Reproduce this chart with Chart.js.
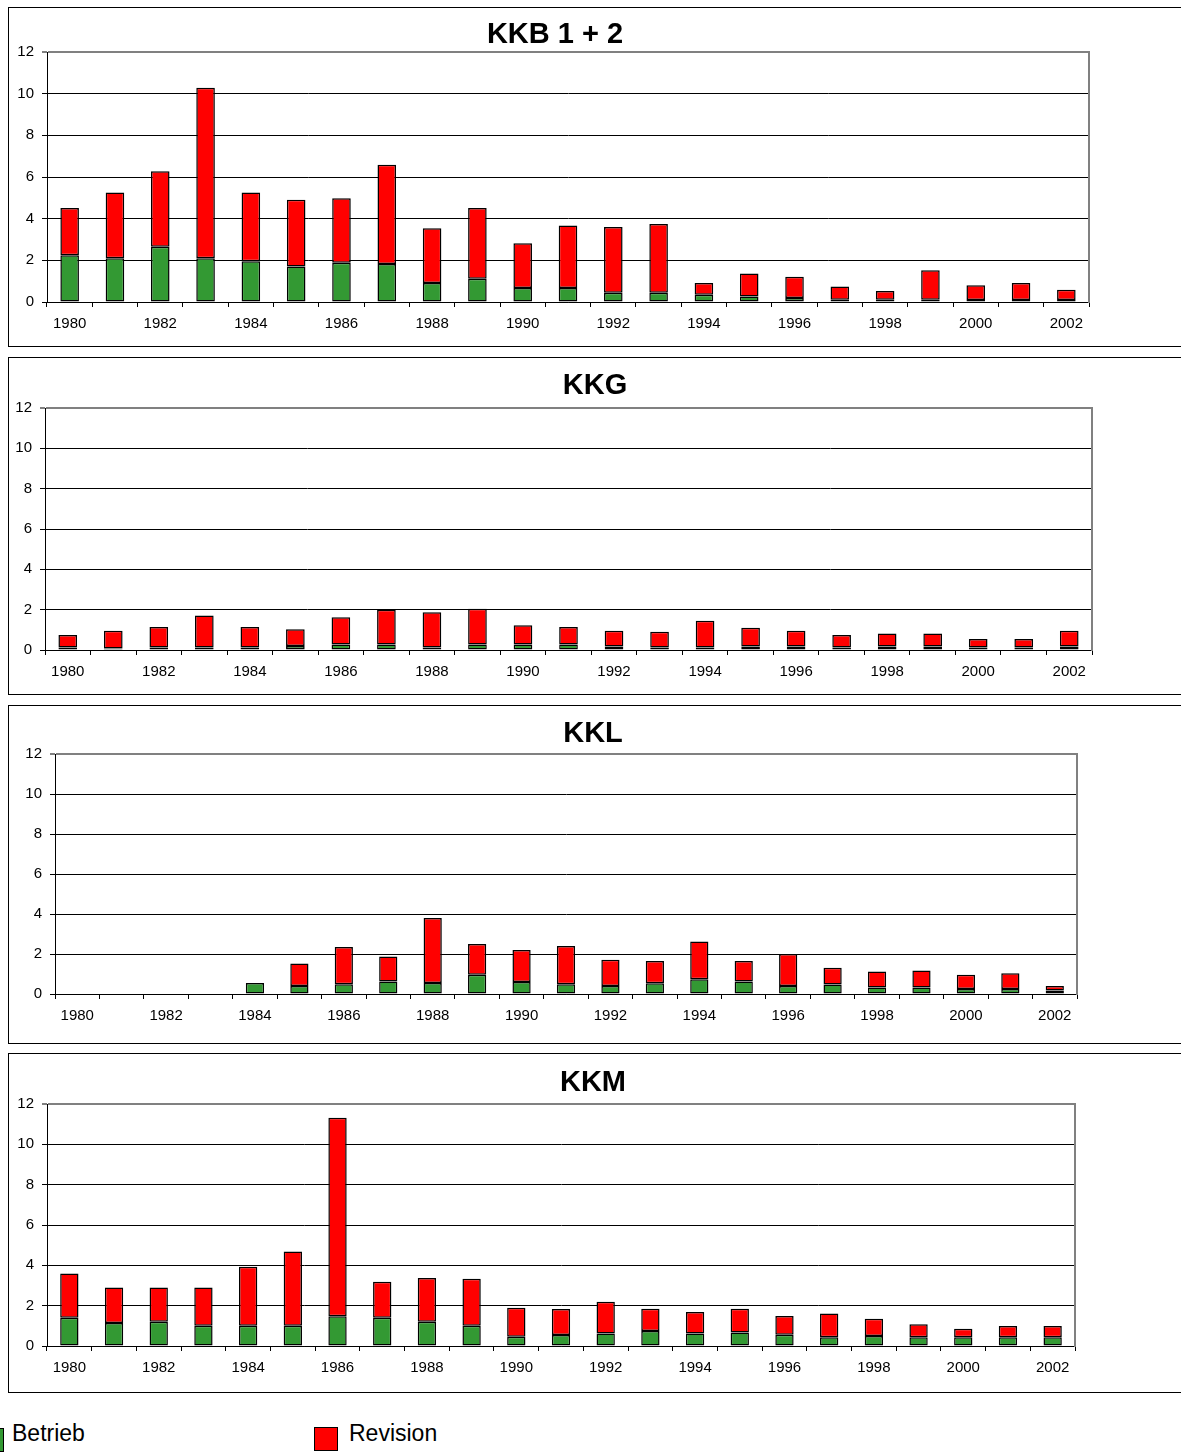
<!DOCTYPE html>
<html>
<head>
<meta charset="utf-8">
<script src="https://cdn.jsdelivr.net/npm/chart.js@4.4.1/dist/chart.umd.min.js"></script>
<style>
  body { margin: 0; width: 1181px; height: 1452px; overflow: hidden; background: #fff; position: relative; font-family: 'Liberation Sans', Arial, sans-serif; }
  .box { position: absolute; left: 8px; width: 1300px; border: 1px solid #000; box-sizing: border-box; }
  .holder { position: absolute; left: 0; }
  .sq { position: absolute; width: 24px; height: 24px; border: 1px solid #000; box-sizing: border-box; }
  .lbl { position: absolute; font-size: 23px; color: #000; }
</style>
</head>
<body>

<div class="box" style="top:7px;height:340px"></div>
<div class="box" style="top:357px;height:338px"></div>
<div class="box" style="top:705px;height:339px"></div>
<div class="box" style="top:1053px;height:340px"></div>

<div class="holder" id="h1"><canvas id="kkb"></canvas></div>
<div class="holder" id="h2"><canvas id="kkg"></canvas></div>
<div class="holder" id="h3"><canvas id="kkl"></canvas></div>
<div class="holder" id="h4"><canvas id="kkm"></canvas></div>

<div class="sq" style="left:-20px;top:1428px;background:#339933"></div>
<div class="lbl" style="left:12px;top:1420px">Betrieb</div>
<div class="sq" style="left:314px;top:1427px;background:#ff0000"></div>
<div class="lbl" style="left:349px;top:1420px">Revision</div>

<script>
// years on the x axis
const years = ['1980', '1981', '1982', '1983', '1984', '1985', '1986', '1987', '1988', '1989', '1990', '1991',
  '1992', '1993', '1994', '1995', '1996', '1997', '1998', '1999', '2000', '2001', '2002'];

// y axis ticks
const yTicks = [0, 2, 4, 6, 8, 10, 12];

// KKB 1 + 2
const kkbBetrieb = [2.25, 2.1, 2.65, 2.1, 1.96, 1.71, 1.88, 1.83, 0.91, 1.12, 0.67, 0.67, 0.45, 0.45, 0.35, 0.27, 0.19, 0.11, 0.11, 0.11, 0.1, 0.1, 0.1];
const kkbRevision = [2.26, 3.16, 3.63, 8.19, 3.3, 3.2, 3.1, 4.76, 2.63, 3.39, 2.15, 3.0, 3.15, 3.3, 0.56, 1.1, 1.02, 0.64, 0.42, 1.41, 0.71, 0.81, 0.49];

// KKG
const kkgBetrieb = [0.13, 0.08, 0.13, 0.13, 0.13, 0.2, 0.27, 0.27, 0.13, 0.27, 0.27, 0.27, 0.17, 0.13, 0.13, 0.17, 0.17, 0.13, 0.17, 0.17, 0.13, 0.13, 0.17];
const kkgRevision = [0.61, 0.88, 1.01, 1.58, 1.01, 0.83, 1.36, 1.73, 1.74, 1.78, 0.96, 0.87, 0.79, 0.77, 1.32, 0.93, 0.79, 0.61, 0.65, 0.65, 0.41, 0.41, 0.79];

// KKL (no data before 1984)
const kklBetrieb = [null, null, null, null, 0.55, 0.4, 0.49, 0.62, 0.55, 0.96, 0.6, 0.49, 0.4, 0.54, 0.74, 0.62, 0.4, 0.47, 0.32, 0.32, 0.25, 0.25, 0.17];
const kklRevision = [null, null, null, null, null, 1.13, 1.86, 1.25, 3.25, 1.54, 1.6, 1.91, 1.31, 1.11, 1.88, 1.03, 1.6, 0.84, 0.81, 0.86, 0.71, 0.79, 0.23];

// KKM
const kkmBetrieb = [1.4, 1.14, 1.2, 1.0, 1.0, 1.0, 1.47, 1.4, 1.2, 1.0, 0.46, 0.54, 0.62, 0.75, 0.62, 0.67, 0.56, 0.43, 0.5, 0.43, 0.43, 0.43, 0.43];
const kkmRevision = [2.2, 1.76, 1.7, 1.9, 2.93, 3.69, 9.85, 1.78, 2.17, 2.33, 1.44, 1.29, 1.58, 1.1, 1.07, 1.18, 0.93, 1.18, 0.85, 0.65, 0.42, 0.56, 0.56];

const font = "'Liberation Sans', Arial, sans-serif";

function makePanel(holderId, canvasId, title, betrieb, revision, g) {
  const holder = document.getElementById(holderId);
  holder.style.top = g.top + 'px';
  holder.style.width = g.width + 'px';
  holder.style.height = (g.bottom - g.top) + 'px';

  new Chart(document.getElementById(canvasId), {
    type: 'bar',
    data: {
      labels: years,
      datasets: [
        { label: 'Betrieb', data: betrieb, backgroundColor: '#339933', borderColor: '#000', borderWidth: 1.5, borderSkipped: false },
        { label: 'Revision', data: revision, backgroundColor: '#ff0000', borderColor: '#000', borderWidth: 1.5, borderSkipped: false }
      ]
    },
    options: {
      responsive: true,
      maintainAspectRatio: false,
      animation: false,
      layout: { padding: 0 },
      datasets: { bar: { categoryPercentage: 1, barPercentage: 0.41 } },
      plugins: {
        legend: { display: false },
        tooltip: { enabled: false },
        title: {
          display: true,
          text: title,
          color: '#000',
          font: { family: font, size: 29, weight: 'bold' },
          padding: { top: g.titleTop, bottom: g.titleBottom }
        }
      },
      scales: {
        x: {
          stacked: true,
          offset: true,
          grid: { offset: true, drawOnChartArea: false, drawTicks: true, tickLength: 5, color: '#000' },
          border: { color: '#000', width: 1 },
          ticks: {
            autoSkip: false,
            maxRotation: 0,
            padding: 8,
            color: '#000',
            font: { family: font, size: 15 },
            callback: function (v, i) { return i % 2 === 0 ? years[i] : ''; }
          },
          afterFit: function (s) { s.height = g.bottom - g.plotBottom; }
        },
        y: {
          stacked: true,
          min: 0,
          max: 12,
          afterBuildTicks: function (s) { s.ticks = yTicks.map(v => ({ value: v })); },
          grid: {
            drawTicks: true,
            tickLength: 5,
            color: ctx => ctx.tick && ctx.tick.value === 12 ? '#808080' : '#000',
            lineWidth: ctx => ctx.tick && ctx.tick.value === 12 ? 2 : 1
          },
          border: { color: '#000', width: 1 },
          ticks: { padding: 8, color: '#000', font: { family: font, size: 15 } },
          afterFit: function (s) { s.width = g.plotLeft; }
        },
        y2: {
          position: 'right',
          min: 0,
          max: 12,
          grid: { drawOnChartArea: false, drawTicks: false },
          border: { color: '#808080', width: 2 },
          ticks: { display: false },
          afterFit: function (s) { s.width = g.width - g.plotRight; }
        }
      }
    }
  });
}

makePanel('h1', 'kkb', 'KKB 1 + 2', kkbBetrieb, kkbRevision,
  { top: 7, bottom: 346, width: 1110, plotLeft: 47, plotRight: 1089, plotBottom: 302, titleTop: 10.6, titleBottom: -0.4 });
makePanel('h2', 'kkg', 'KKG', kkgBetrieb, kkgRevision,
  { top: 357, bottom: 694, width: 1190, plotLeft: 45, plotRight: 1092, plotBottom: 650, titleTop: 11.6, titleBottom: 4.6 });
makePanel('h3', 'kkl', 'KKL', kklBetrieb, kklRevision,
  { top: 705, bottom: 1043, width: 1186, plotLeft: 55, plotRight: 1077, plotBottom: 994, titleTop: 11.6, titleBottom: 2.6 });
makePanel('h4', 'kkm', 'KKM', kkmBetrieb, kkmRevision,
  { top: 1053, bottom: 1392, width: 1186, plotLeft: 47, plotRight: 1075, plotBottom: 1346, titleTop: 12.6, titleBottom: 3.6 });
</script>
</body>
</html>
